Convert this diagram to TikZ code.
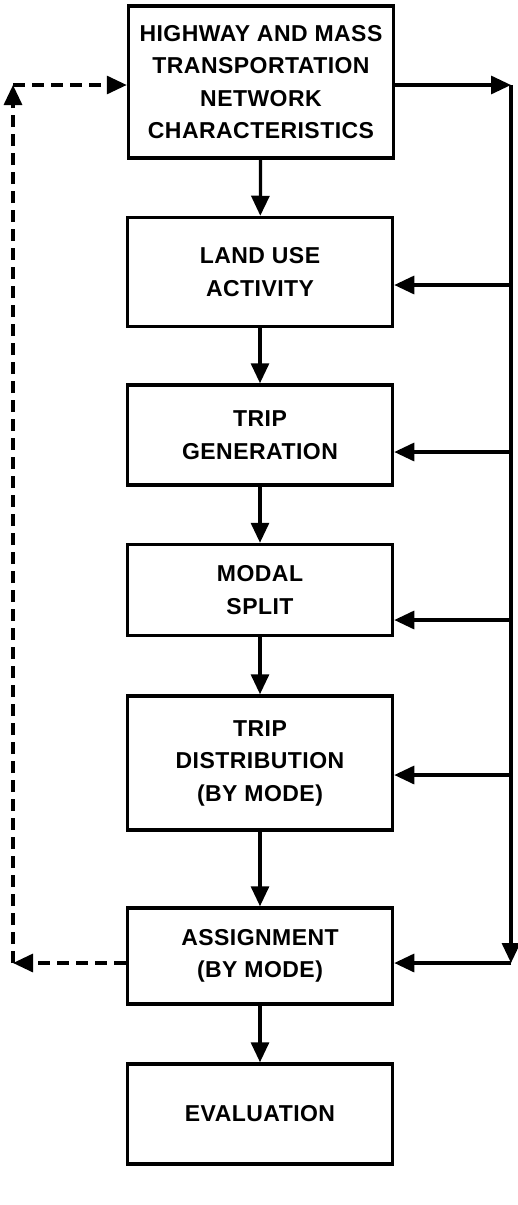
\documentclass[tikz,border=0pt]{standalone}
\usepackage{fontspec}
\setmainfont{Liberation Sans}[LetterSpace=2]
\usetikzlibrary{arrows.meta}
\begin{document}
\begin{tikzpicture}[x=1pt,y=-1pt,
  blk/.style={draw, line width=3.5pt, minimum width=265pt, align=center,
    font=\fontsize{23}{32.5}\selectfont\bfseries, inner sep=0pt},
  arr/.style={line width=3.2pt, -{Triangle[length=20pt,width=18pt]}},
  darr/.style={arr, dash pattern=on 12pt off 7pt}]
\useasboundingbox (0,0) rectangle (517,1205);
\node[blk, minimum height=152pt] (b1) at (261,82) {HIGHWAY AND MASS\\TRANSPORTATION\\NETWORK\\CHARACTERISTICS};
\node[blk, minimum height=109pt] (b2) at (260,272) {LAND USE\\ACTIVITY};
\node[blk, minimum height=100pt] (b3) at (260,435) {TRIP\\GENERATION};
\node[blk, minimum height=91pt] (b4) at (260,590) {MODAL\\SPLIT};
\node[blk, minimum height=134pt] (b5) at (260,763) {TRIP\\DISTRIBUTION\\(BY MODE)};
\node[blk, minimum height=96pt] (b6) at (260,956) {ASSIGNMENT\\(BY MODE)};
\node[blk, minimum height=100pt] (b7) at (260,1114) {EVALUATION};
% main chain
\draw[arr] (b1) -- (b2);
\draw[arr] (b2) -- (b3);
\draw[arr] (b3) -- (b4);
\draw[arr] (b4) -- (b5);
\draw[arr] (b5) -- (b6);
\draw[arr] (b6) -- (b7);
% right feedback
\coordinate (rt) at (511,85);
\coordinate (rb) at (511,963);
\coordinate (r2) at (511,285);
\coordinate (r3) at (511,452);
\coordinate (r4) at (511,620);
\coordinate (r5) at (511,775);
\draw[arr] (b1.east |- rt) -- (rt);
\draw[arr] (rt) -- (rb);
\draw[arr] (rb) -- (rb -| b6.east);
\draw[arr] (r2) -- (r2 -| b2.east);
\draw[arr] (r3) -- (r3 -| b3.east);
\draw[arr] (r4) -- (r4 -| b4.east);
\draw[arr] (r5) -- (r5 -| b5.east);
% left dashed loop
\coordinate (lt) at (13,85);
\coordinate (lb) at (13,963);
\draw[darr] (b6.west |- lb) -- (lb);
\draw[darr] (lb) -- (lt);
\draw[darr] (lt) -- (lt -| b1.west);
\end{tikzpicture}
\end{document}
